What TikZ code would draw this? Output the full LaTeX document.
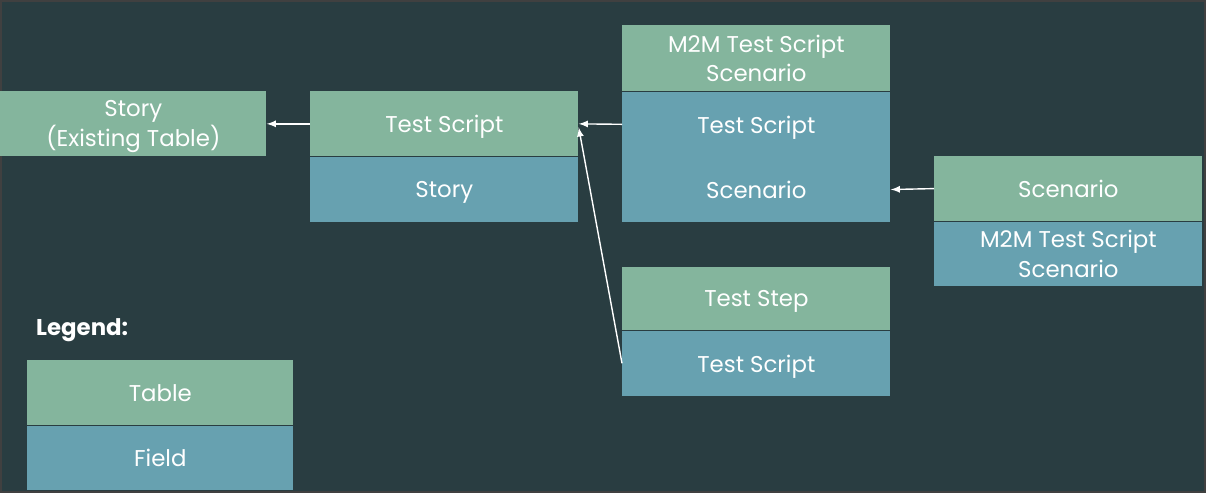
\documentclass[tikz,border=0pt]{standalone}
\usepackage{fontspec}
\setmainfont{Poppins}
\usetikzlibrary{arrows,positioning}

\definecolor{bgdark}{HTML}{293D41}
\definecolor{tblgreen}{HTML}{84B59D}
\definecolor{tblblue}{HTML}{67A1B0}
\definecolor{framegray}{HTML}{404040}

\tikzset{
  tblhead/.style={fill=tblgreen, text=white, minimum width=5.36cm, minimum height=1.29cm,
    inner sep=0pt, align=center, text depth=0pt, font=\fontsize{13}{17}\selectfont},
  tblfield/.style={tblhead, fill=tblblue},
  link/.style={draw=white, line width=0.8pt, -latex}
}

\begin{document}
\begin{tikzpicture}
  \useasboundingbox (0,0) rectangle (24.12,-9.86);
  \fill[bgdark] (0,0) rectangle (24.12,-9.86); %Background
  \draw[framegray, line width=1pt] (0.02,-0.02) rectangle (24.10,-9.84); %Frame

  % Story table
  \node[tblhead, anchor=north west, minimum width=5.32cm, minimum height=1.30cm] (story) at (0,-1.82) {Story\\(Existing Table)};

  % Test Script table
  \node[tblhead, anchor=north west, minimum height=1.30cm] (tscript) at (6.2,-1.82) {Test Script};
  \node[tblfield, below=0pt of tscript] (tscriptf) {Story};

  % M2M Test Script Scenario table
  \node[tblhead, anchor=north west, minimum height=1.32cm] (mtm) at (12.44,-0.5) {M2M Test Script\\Scenario};
  \node[tblfield, below=0pt of mtm] (mtmfa) {Test Script};
  \node[tblfield, below=0pt of mtmfa] (mtmfb) {Scenario};

  % Scenario table
  \node[tblhead, anchor=north west] (scen) at (18.68,-3.12) {Scenario};
  \node[tblfield, below=0pt of scen] (scenf) {M2M Test Script\\Scenario};

  % Test Step table
  \node[tblhead, anchor=north west, minimum height=1.26cm] (tstep) at (12.44,-5.34) {Test Step};
  \node[tblfield, below=0pt of tstep] (tstepf) {Test Script};

  % Legend
  \node[text=white, anchor=west, font=\fontsize{13}{16}\selectfont\bfseries] (legend) at (0.6,-6.6) {Legend:};
  \node[tblhead, anchor=north west, minimum width=5.32cm] (ltable) at (0.54,-7.2) {Table};
  \node[tblfield, minimum width=5.32cm, below=0pt of ltable] (lfield) {Field};

  % Links
  \draw[link] (tscript.west) -- (story.east);
  \draw[link] (mtmfa.west) -- (tscript.east);
  \draw[link] (scen.west) -- (mtmfb.east);
  \draw[link] (tstepf.west) -- ([yshift=-2pt]tscript.east);
\end{tikzpicture}
\end{document}
